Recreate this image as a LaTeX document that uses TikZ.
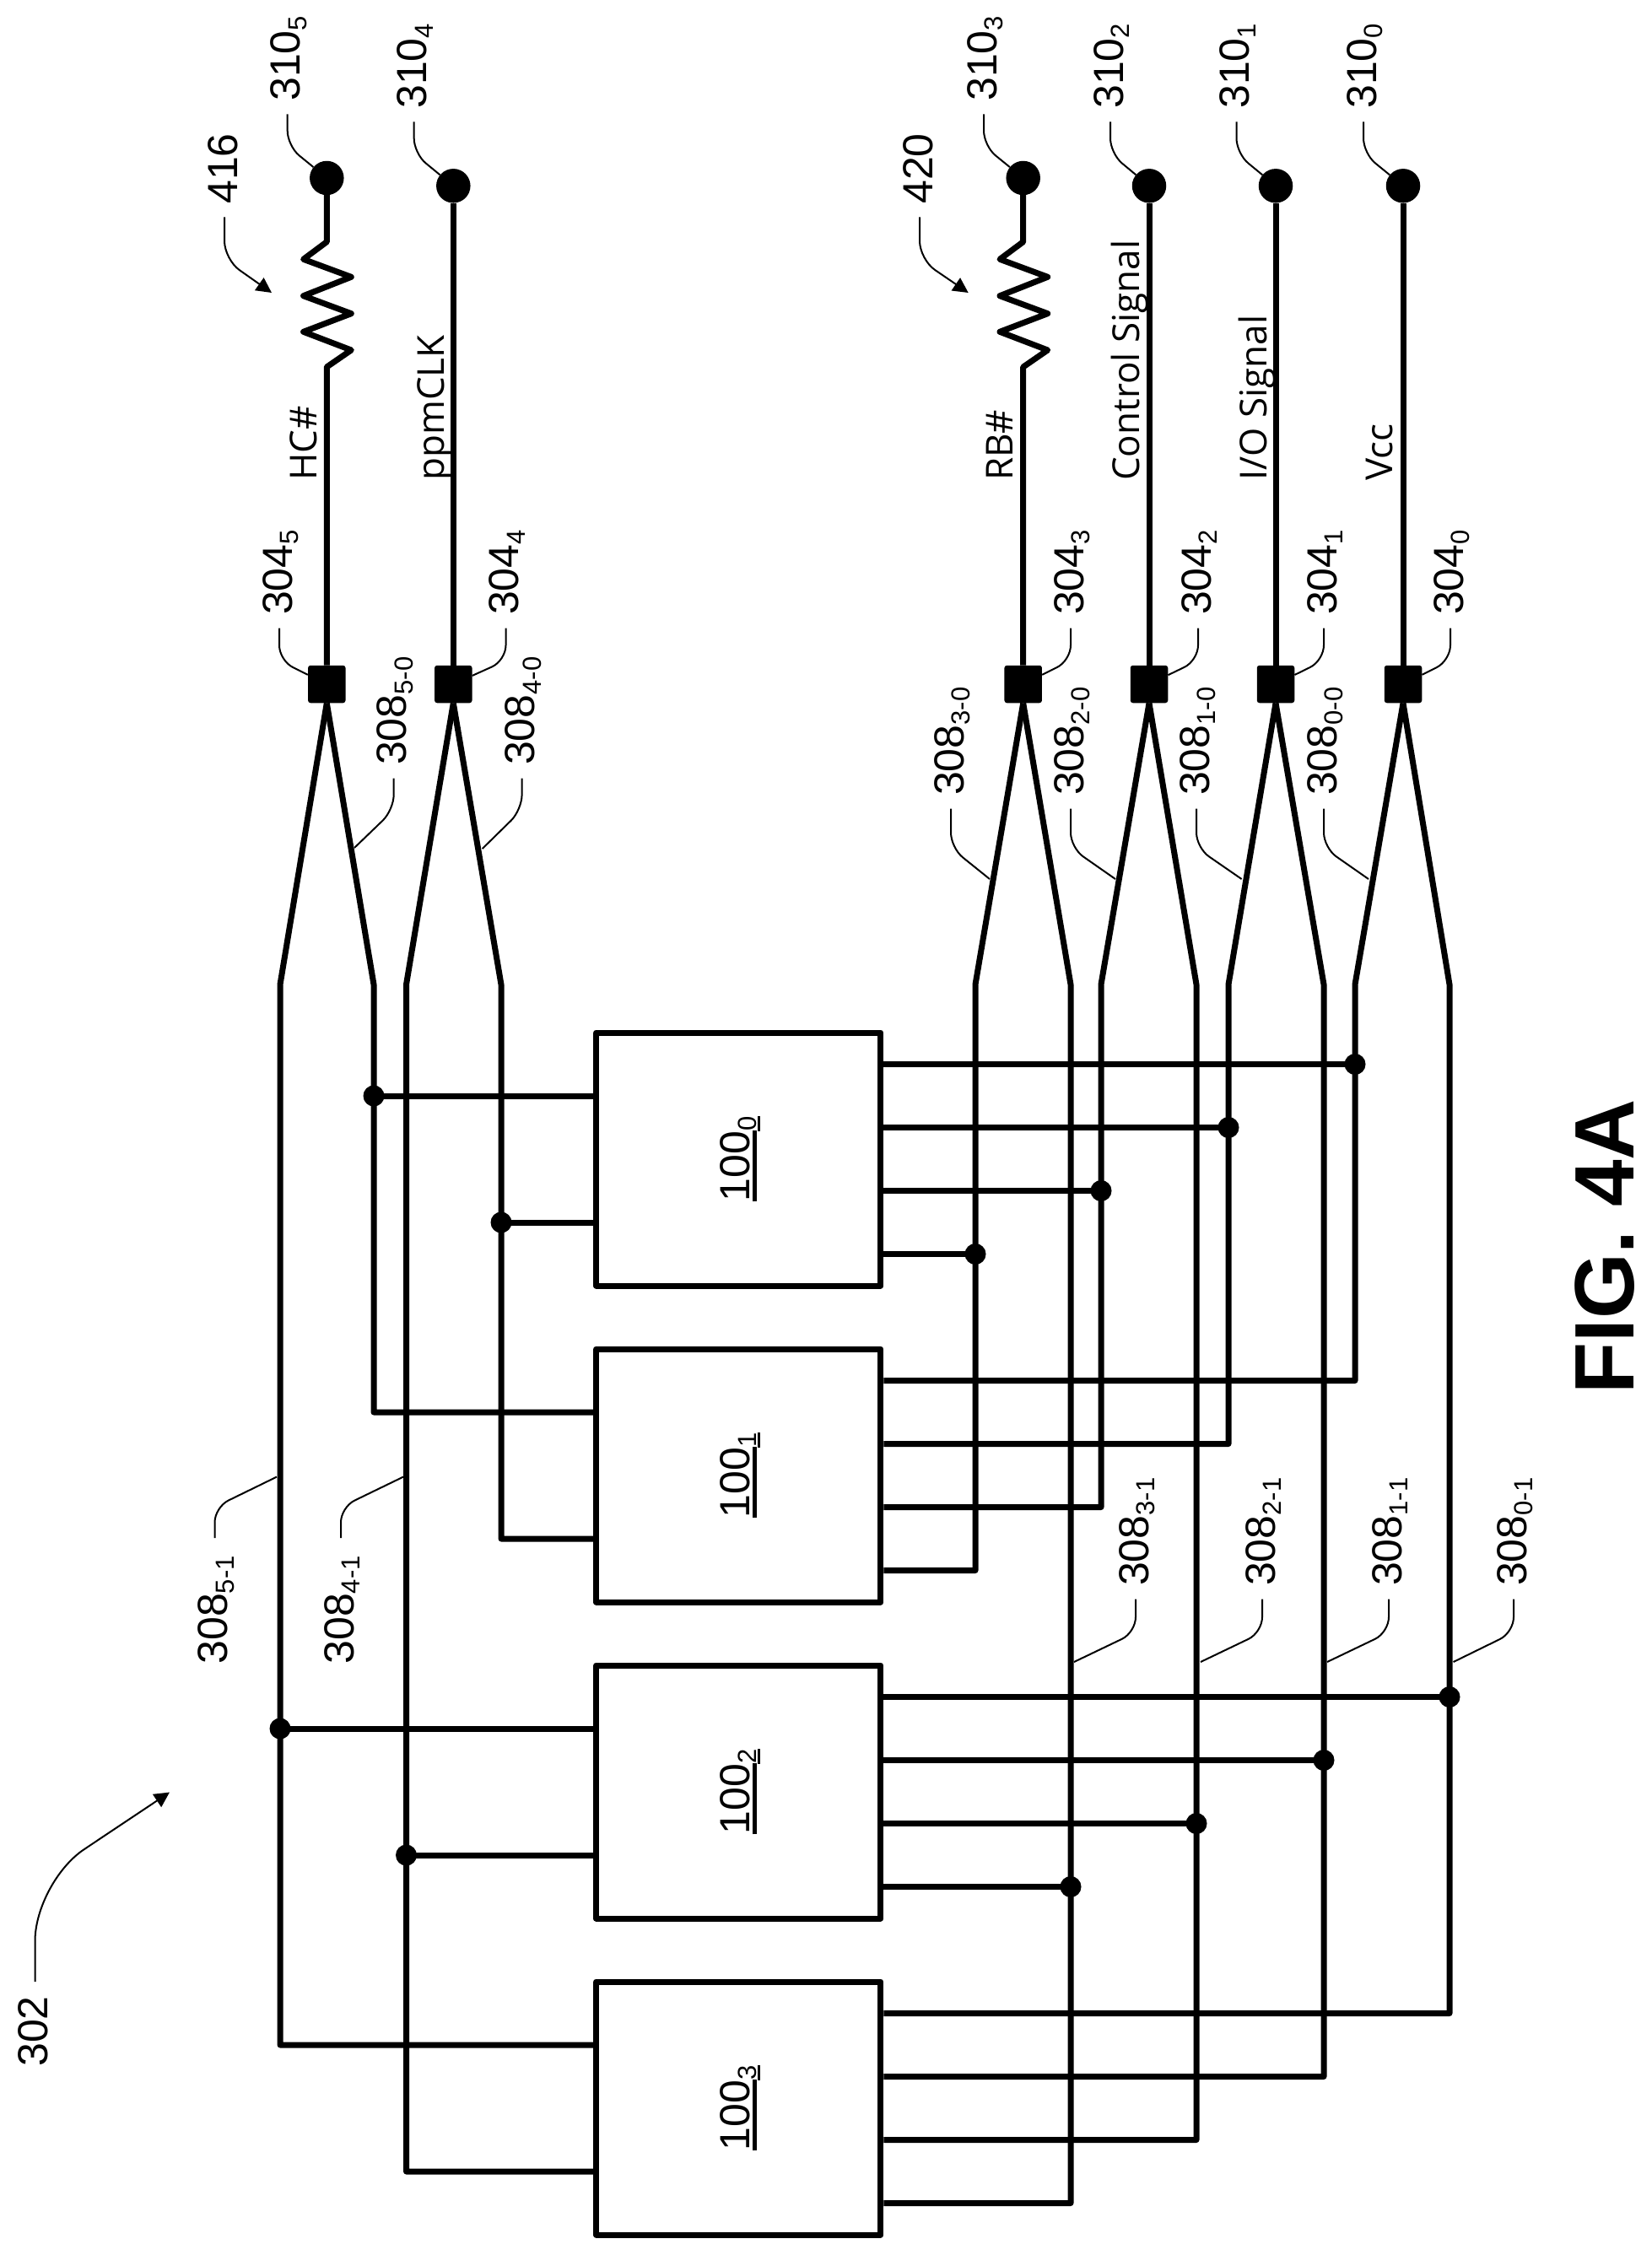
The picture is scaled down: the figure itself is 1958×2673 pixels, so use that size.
\documentclass[tikz,border=0pt]{standalone}
\usepackage{fontspec}
\setmainfont{Liberation Sans}
\newfontfamily\sigfont{Open Sans}
\usetikzlibrary{arrows.meta}

\newcommand{\idx}[1]{\smash{\raisebox{-7.5pt}{\fontsize{31}{31}\selectfont #1}}}
\newcommand{\chipno}[1]{\rlap{\rule[-8.3pt]{84pt}{5pt}}100\smash{\rlap{\rule[-12.3pt]{18pt}{3.3pt}}}\idx{#1}}

\tikzset{
  wire/.style={line width=7pt, line join=round},
  lead/.style={line width=2pt, rounded corners=18pt, shorten <=15.5pt},
  tip/.style={-{Triangle[length=18pt,width=18pt]}},
  chip/.style={draw, line width=7pt, line join=round, minimum width=337.3pt, minimum height=300pt, inner sep=0pt, font=\fontsize{50}{52}\selectfont},
  pad/.style={fill=black, rounded corners=3pt, minimum size=44.5pt, inner sep=0pt},
  term/.style={circle, fill=black, minimum size=40.5pt, inner sep=0pt},
  junction/.style={circle, fill=black, minimum size=25pt, inner sep=0pt},
  lab/.style={rotate=90, inner sep=0pt, text height=30pt, text depth=0pt, font=\fontsize{50}{52}\selectfont},
  sig/.style={rotate=90, anchor=base west, inner sep=0pt, font=\sigfont\fontsize{44}{46}\selectfont},
}

\begin{document}
\begin{tikzpicture}[x=1pt, y=-1pt, line join=round]
  \useasboundingbox (0,0) rectangle (1958,2673);

  % Puces
  \foreach \i/\yc in {0/1374, 1/1749, 2/2124, 3/2499}
    \node[chip] (b\i) at (875.3,\yc) {\rotatebox{90}{\chipno{\i}}};

  % Plots et bornes
  \foreach \n/\xw/\yt in {5/387.3/211, 4/537.3/220.3, 3/1212.7/211, 2/1362/220.3, 1/1512/220.3, 0/1663/220.3} {
    \node[pad] (p\n) at (\xw,811) {};
    \node[term] (t\n) at (\xw,\yt) {};
  }

  % Liaisons bornes - plots
  \foreach \n in {4,2,1,0}
    \draw[wire] (t\n) -- (p\n);
  \foreach \n in {5,3}
    \draw[wire] (t\n.center) -- ++(0,75.7) -- ++(-27.7,20.6) -- ++(56.7,21) -- ++(-56.7,22.4) -- ++(56.7,21)
      -- ++(-56.7,21.6) -- ++(56.7,21.7) -- ++(-29,20) -- (p\n);

  % Fils
  \foreach \n/\xa/\xb/\sd/\ya/\yb/\yc/\yd in {
    5/443/332/west/1299/1674/2049/2424,
    4/594/481.5/west/1449/1824/2199/2574,
    3/1156/1269/east/1486.5/1861.5/2236.5/2611.5,
    2/1305/1418/east/1411.5/1786.5/2161.5/2536.5,
    1/1456/1569/east/1336.5/1711.5/2086.5/2461.5,
    0/1606/1718/east/1261.5/1636.5/2011.5/2386.5} {
    \coordinate (ka\n) at (\xa,1167);
    \coordinate (kb\n) at (\xb,1167);
    \coordinate (ea\n) at (\xa,\yb);
    \coordinate (eb\n) at (\xb,\yd);
    \node[junction] (ja\n) at (\xa,\ya) {};
    \node[junction] (jb\n) at (\xb,\yc) {};
    \draw[wire] (p\n.south) -- (ka\n) -- (ea\n) -- (ea\n -| b1.\sd);
    \draw[wire] (p\n.south) -- (kb\n) -- (eb\n) -- (eb\n -| b3.\sd);
    \draw[wire] (ja\n.center) -- (ja\n.center -| b0.\sd);
    \draw[wire] (jb\n.center) -- (jb\n.center -| b2.\sd);
  }

  % Reperes 310
  \foreach \n/\xl/\yl in {5/340.7/120, 4/490.7/129, 3/1166/120, 2/1316/129, 1/1465.5/129, 0/1616/129} {
    \node[lab, anchor=west] (lt\n) at (\xl,\yl) {310\idx{\n}};
    \draw[lead] (lt\n.west) -- ++(0,53) -- (t\n);
  }

  % Reperes 304
  \foreach \n/\xl in {5/331, 4/599.5, 3/1269, 2/1420, 1/1569, 0/1719} {
    \node[lab, anchor=west] (lp\n) at (\xl,729) {304\idx{\n}};
    \draw[lead] (lp\n.west) -- ++(0,54) -- (p\n);
  }

  % Reperes 308, haut
  \foreach \n/\xl/\yl/\dy/\xe/\ye in {
    5/466.7/907/53/420/1005, 4/618.6/907/53/571.7/1006,
    3/1127/943/62/1173/1042, 2/1269/943/62/1322/1042,
    1/1418/943/62/1471.6/1042, 0/1569/943/62/1622/1042} {
    \node[lab, anchor=west] (la\n) at (\xl,\yl) {308\idx{\n-0}};
    \coordinate (ca\n) at (\xe,\ye);
    \draw[lead] (la\n.west) -- ++(0,\dy) -- (ca\n);
  }

  % Reperes 308, bas
  \foreach \n/\xl/\xe in {3/1346/1273, 2/1496/1423, 1/1646/1573, 0/1794/1722.6} {
    \node[lab, anchor=west] (lb\n) at (\xl,1880) {308\idx{\n-1}};
    \coordinate (cb\n) at (\xe,1970);
    \draw[lead] (lb\n.west) -- ++(0,55) -- (cb\n);
  }
  \foreach \n/\xl/\xe in {5/254.5/328, 4/404/478} {
    \node[lab, anchor=east] (lb\n) at (\xl,1844) {308\idx{\n-1}};
    \coordinate (cb\n) at (\xe,1750.6);
    \draw[lead, shorten <=21pt] (lb\n.east) -- ++(0,-57.5) -- (cb\n);
  }

  % Fleches
  \node[lab, anchor=west] (l416) at (266,242) {416};
  \coordinate (a416) at (322,347);
  \draw[lead, tip, rounded corners=22pt] (l416.west) -- ++(0,65.6) -- (a416);
  \node[lab, anchor=west] (l420) at (1090,242) {420};
  \coordinate (a420) at (1147.7,347);
  \draw[lead, tip, rounded corners=22pt] (l420.west) -- ++(0,65.6) -- (a420);
  \node[lab, anchor=east] (l302) at (41.5,2366) {302};
  \coordinate (a302) at (201,2124.5);
  \draw[lead, tip, rounded corners=70pt, shorten <=17pt] (l302.east) -- ++(0,-135) -- (a302);

  % Signaux
  \node[sig] (s5) at (375,570) {HC\#};
  \node[sig] (s4) at (526,570) {ppmCLK};
  \node[sig] (s3) at (1200,570) {RB\#};
  \node[sig] (s2) at (1350,570) {Control Signal};
  \node[sig] (s1) at (1501,570) {I/O Signal};
  \node[sig] (s0) at (1650.6,570) {Vcc};

  % Titre
  \node[rotate=90, anchor=base west, inner sep=0pt, font=\bfseries\fontsize{100}{104}\selectfont] (fig) at (1936.7,1653) {FIG. 4A};
\end{tikzpicture}
\end{document}
